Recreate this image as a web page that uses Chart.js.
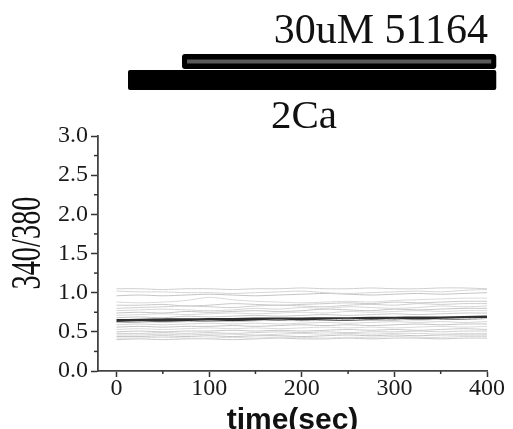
<!DOCTYPE html>
<html>
<head>
<meta charset="utf-8">
<script src="https://cdn.jsdelivr.net/npm/chart.js@4"></script>
<style>
  html, body { margin: 0; padding: 0; background: #fff; }
  #wrap { width: 513px; height: 429px; position: relative; }
</style>
</head>
<body>
<div id="wrap"><canvas id="c" width="513" height="429"></canvas></div>
<script>
// ---- data ----
const timeSec = [0, 25, 50, 75, 100, 125, 150, 175, 200, 225, 250, 275, 300, 325, 350, 375, 400];
const cellTraces = [
  [1.05,1.05,1.04,1.05,1.05,1.04,1.05,1.05,1.06,1.05,1.05,1.06,1.05,1.05,1.06,1.06,1.05],
  [1.02,1.01,1.01,1.00,1.00,0.99,1.00,1.01,1.02,1.00,0.99,1.00,1.01,1.02,1.01,1.03,1.04],
  [0.96,0.97,0.96,0.97,0.98,0.97,0.96,0.97,0.98,0.99,0.98,0.97,0.98,0.99,0.98,0.99,1.00],
  [0.88,0.87,0.88,0.90,0.94,0.91,0.89,0.88,0.87,0.88,0.89,0.88,0.90,0.91,0.92,0.93,0.93],
  [0.84,0.84,0.85,0.83,0.84,0.86,0.85,0.84,0.85,0.86,0.87,0.86,0.88,0.87,0.88,0.89,0.89],
  [0.80,0.81,0.82,0.83,0.82,0.81,0.83,0.84,0.83,0.82,0.84,0.85,0.84,0.86,0.85,0.86,0.86],
  [0.77,0.78,0.79,0.78,0.77,0.78,0.80,0.79,0.81,0.80,0.82,0.81,0.80,0.81,0.83,0.82,0.83],
  [0.74,0.75,0.74,0.76,0.75,0.76,0.77,0.76,0.77,0.79,0.78,0.77,0.79,0.78,0.79,0.80,0.80],
  [0.71,0.72,0.73,0.72,0.73,0.74,0.73,0.74,0.75,0.74,0.76,0.75,0.76,0.77,0.76,0.77,0.77],
  [0.68,0.69,0.68,0.70,0.69,0.70,0.71,0.70,0.71,0.72,0.71,0.72,0.73,0.72,0.73,0.74,0.74],
  [0.62,0.63,0.62,0.63,0.64,0.63,0.64,0.65,0.64,0.65,0.66,0.65,0.66,0.65,0.66,0.67,0.67],
  [0.59,0.60,0.59,0.60,0.61,0.60,0.61,0.60,0.61,0.62,0.61,0.62,0.63,0.62,0.63,0.62,0.63],
  [0.56,0.57,0.56,0.57,0.57,0.58,0.57,0.58,0.59,0.58,0.59,0.58,0.59,0.60,0.59,0.60,0.60],
  [0.53,0.54,0.53,0.54,0.55,0.54,0.55,0.54,0.55,0.56,0.55,0.56,0.55,0.56,0.57,0.56,0.57],
  [0.50,0.51,0.50,0.51,0.51,0.52,0.51,0.52,0.51,0.52,0.53,0.52,0.53,0.52,0.53,0.54,0.53],
  [0.48,0.48,0.49,0.48,0.49,0.48,0.49,0.50,0.49,0.50,0.49,0.50,0.50,0.51,0.50,0.51,0.51],
  [0.46,0.46,0.47,0.46,0.47,0.47,0.46,0.47,0.48,0.47,0.48,0.47,0.48,0.48,0.47,0.48,0.48],
  [0.44,0.44,0.45,0.44,0.45,0.44,0.45,0.45,0.44,0.45,0.46,0.45,0.46,0.45,0.46,0.46,0.46],
  [0.42,0.42,0.43,0.42,0.42,0.43,0.42,0.43,0.43,0.42,0.43,0.43,0.44,0.43,0.43,0.44,0.44],
  [0.40,0.41,0.40,0.41,0.41,0.40,0.41,0.42,0.41,0.41,0.42,0.41,0.42,0.42,0.41,0.42,0.42]
];
const meanTrace = [0.64,0.645,0.65,0.65,0.655,0.655,0.66,0.66,0.66,0.665,0.665,0.67,0.67,0.675,0.675,0.68,0.685];
const xTickValues = [0, 50, 100, 150, 200, 250, 300, 350, 400];
const yTickValues = [0, 0.25, 0.5, 0.75, 1.0, 1.25, 1.5, 1.75, 2.0, 2.25, 2.5, 2.75, 3.0];
const barLabels = ['30uM 51164', '2Ca'];
const barStart = [70.7, 12.4];
const barEnd = [410, 410];
const xTitle = 'time(sec)';
const yTitle = '340/380';

// ---- chart ----
const greys = ['#cfcfcf', '#d6d6d6', '#c4c4c4', '#dadada', '#c9c9c9'];
const datasets = cellTraces.map((tr, i) => ({
  data: tr.map((v, j) => ({ x: timeSec[j], y: v })),
  borderColor: greys[i % greys.length],
  borderWidth: 1,
  pointRadius: 0,
  tension: 0.3
}));
datasets.push({
  data: meanTrace.map((v, j) => ({ x: timeSec[j], y: v })),
  borderColor: '#2e2e2e',
  borderWidth: 3.5,
  pointRadius: 0,
  tension: 0.3
});

const isMajorX = v => v % 100 === 0;
const isMajorY = v => Math.abs(v * 2 - Math.round(v * 2)) < 1e-6;

const decor = {
  id: 'decor',
  afterDraw(chart) {
    const ctx = chart.ctx;
    const xs = chart.scales.x, ys = chart.scales.y;
    const area = chart.chartArea;
    ctx.save();
    // minor ticks
    ctx.strokeStyle = '#333';
    ctx.lineWidth = 1.5;
    xTickValues.filter(v => !isMajorX(v)).forEach(v => {
      const px = xs.getPixelForValue(v);
      ctx.beginPath(); ctx.moveTo(px, area.bottom); ctx.lineTo(px, area.bottom + 3); ctx.stroke();
    });
    yTickValues.filter(v => !isMajorY(v)).forEach(v => {
      const py = ys.getPixelForValue(v);
      ctx.beginPath(); ctx.moveTo(area.left, py); ctx.lineTo(area.left - 4, py); ctx.stroke();
    });
    // treatment bars
    const t1 = xs.getPixelForValue(barStart[0]), t2 = xs.getPixelForValue(barEnd[0]);
    ctx.fillStyle = '#000';
    ctx.beginPath(); ctx.roundRect(t1, 54, t2 - t1, 15, 3); ctx.fill();
    ctx.fillStyle = '#5a5a5a';
    ctx.fillRect(t1 + 5, 59.5, t2 - t1 - 10, 4);
    const b1 = xs.getPixelForValue(barStart[1]), b2 = xs.getPixelForValue(barEnd[1]);
    ctx.fillStyle = '#000';
    ctx.beginPath(); ctx.roundRect(b1, 70, b2 - b1, 20, 2); ctx.fill();
    // bar labels
    ctx.fillStyle = '#111';
    ctx.textBaseline = 'alphabetic';
    ctx.font = '42px "Liberation Serif", "Times New Roman", serif';
    ctx.textAlign = 'right';
    ctx.fillText(barLabels[0], 488, 43);
    ctx.font = '41px "Liberation Serif", "Times New Roman", serif';
    ctx.textAlign = 'left';
    ctx.fillText(barLabels[1], 271, 128);
    // y title (condensed serif)
    ctx.translate(29, 243);
    ctx.rotate(-Math.PI / 2);
    ctx.scale(0.66, 1);
    ctx.font = '43px "Liberation Serif", "Times New Roman", serif';
    ctx.textAlign = 'center';
    ctx.textBaseline = 'middle';
    ctx.fillText(yTitle, 0, 0);
    ctx.restore();
  }
};

new Chart(document.getElementById('c'), {
  type: 'line',
  data: { datasets },
  options: {
    responsive: false,
    animation: false,
    devicePixelRatio: 1,
    layout: { padding: { top: 136, right: 26, left: 0, bottom: 0 } },
    plugins: { legend: { display: false }, tooltip: { enabled: false } },
    scales: {
      x: {
        type: 'linear',
        min: -20, max: 400,
        afterBuildTicks: s => { s.ticks = xTickValues.map(v => ({ value: v })); },
        afterFit: s => { s.height = 58; },
        border: { display: true, color: '#444', width: 1.8 },
        grid: {
          drawOnChartArea: false, drawTicks: true, tickLength: 6,
          tickColor: c => (c.tick && isMajorX(c.tick.value)) ? '#333' : 'rgba(0,0,0,0)',
          tickWidth: 1.5
        },
        ticks: {
          autoSkip: false, maxRotation: 0,
          padding: 0,
          color: '#1a1a1a',
          font: { family: '"Liberation Serif", "Times New Roman", serif', size: 24, lineHeight: 1 },
          callback: v => isMajorX(v) ? String(v) : ''
        },
        title: {
          display: true, text: xTitle, color: '#111',
          font: { family: '"Liberation Sans", Arial, sans-serif', size: 30, weight: 'bold', lineHeight: 1.2 },
          padding: { top: 0, bottom: -10 }
        }
      },
      y: {
        min: 0, max: 3,
        afterBuildTicks: s => { s.ticks = yTickValues.map(v => ({ value: v })); },
        afterFit: s => { s.width = 98; },
        border: { display: true, color: '#444', width: 1.8 },
        grid: {
          drawOnChartArea: false, drawTicks: true, tickLength: 7,
          tickColor: c => (c.tick && isMajorY(c.tick.value)) ? '#333' : 'rgba(0,0,0,0)',
          tickWidth: 1.5
        },
        ticks: {
          autoSkip: false,
          padding: 3,
          color: '#1a1a1a',
          font: { family: '"Liberation Serif", "Times New Roman", serif', size: 24 },
          callback: v => isMajorY(v) ? v.toFixed(1) : ''
        }
      }
    }
  },
  plugins: [decor]
});
</script>
</body>
</html>
